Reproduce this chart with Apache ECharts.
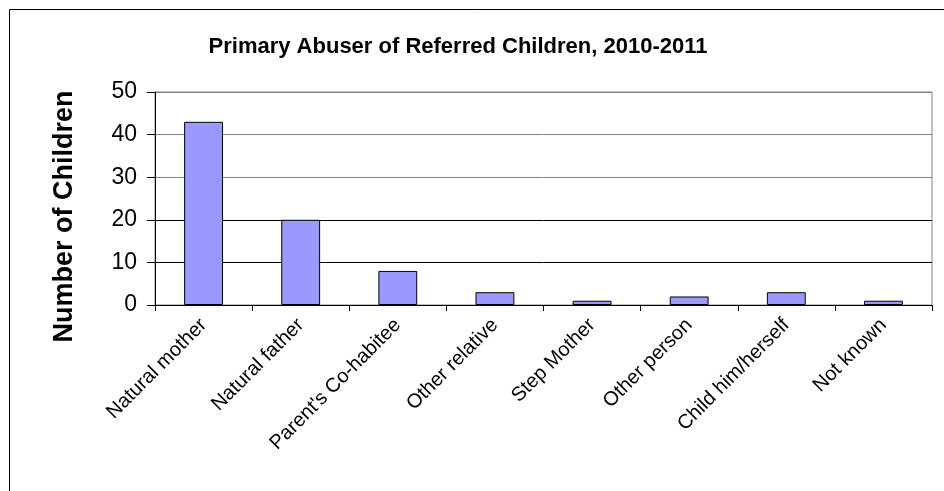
<!DOCTYPE html>
<html><head><meta charset="utf-8">
<script src="https://cdn.jsdelivr.net/npm/echarts@6/dist/echarts.min.js"></script>
<style>html,body{margin:0;padding:0;background:#fff}#c{width:944px;height:491px}</style>
</head><body><div id="c"></div>
<script>
const categories = ['Natural mother','Natural father',"Parent's Co-habitee",'Other relative','Step Mother','Other person','Child him/herself','Not known'];
const values = [43, 20, 8, 3, 1, 2, 3, 1];
const yTicks = [0, 10, 20, 30, 40, 50];

const chart = echarts.init(document.getElementById('c'), null, {renderer:'canvas'});
const F = '"Liberation Sans", Arial, sans-serif';
chart.setOption({
  animation:false,
  backgroundColor:'#fff',
  title:{text:'Primary Abuser of Referred Children, 2010-2011', left:453, top:31, textAlign:'center',
    textStyle:{fontFamily:F, fontSize:22, fontWeight:'bold', color:'#000'}},
  graphic:[{type:'rect', shape:{x:9.5,y:9.5,width:1000,height:1000}, style:{fill:'none', stroke:'#000', lineWidth:1}, silent:true}],
  grid:{left:155, right:12, top:92, bottom:186, show:true, borderColor:'#808080', borderWidth:1, backgroundColor:'transparent'},
  xAxis:{type:'category', data:categories,
    axisLine:{lineStyle:{color:'#000'}},
    axisTick:{show:true, length:6, alignWithLabel:false, lineStyle:{color:'#000'}},
    axisLabel:{rotate:45, interval:0, margin:17, fontFamily:F, fontSize:20, color:'#000'}},
  yAxis:{type:'value', min:yTicks[0], max:yTicks[yTicks.length-1], interval:10,
    name:'Number of Children', nameLocation:'middle', nameGap:77, nameRotate:90,
    nameTextStyle:{fontFamily:F, fontSize:27, fontWeight:'bold', color:'#000', padding:[0,0,0,-36]},
    axisLine:{show:true, lineStyle:{color:'#000'}},
    axisTick:{show:true, length:8, inside:false, lineStyle:{color:'#000'}},
    axisLabel:{margin:18, fontFamily:F, fontSize:23, color:'#000'},
    splitLine:{show:true, lineStyle:{color:['#000','#000','#000','#808080','#808080','#808080'], width:1}}},
  series:[{type:'bar', data:values, barWidth:'40%',
    itemStyle:{color:'#9999FF', borderColor:'#000', borderWidth:1}}]
});
</script></body></html>
